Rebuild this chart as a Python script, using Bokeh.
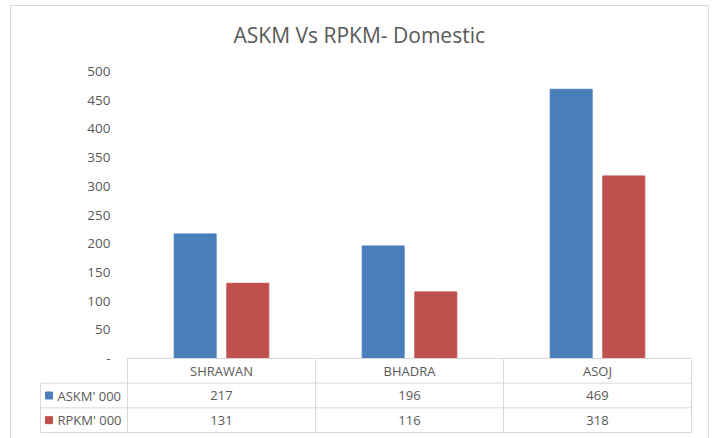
from bokeh.plotting import figure
from bokeh.layouts import column
from bokeh.models import (Range1d, FixedTicker, CustomJSTickFormatter, ColumnDataSource,
                          LinearAxis)
from bokeh.transform import dodge
from bokeh.core.properties import value
from bokeh.embed import file_html
from bokeh.resources import INLINE

# ---- data ----
months = ["SHRAWAN", "BHADRA", "ASOJ"]
askm = [217, 196, 469]
rpkm = [131, 116, 318]
series_names = ["ASKM' 000", "RPKM' 000"]
series_colors = ["#4A7EBB", "#C0504D"]
y_ticks = [0, 50, 100, 150, 200, 250, 300, 350, 400, 450, 500]
title_text = "ASKM  Vs RPKM- Domestic"

FONT = "Open Sans"
GRAY = "#595959"
LINE = "#d9d9d9"

n = len(months)
centers = [i + 0.5 for i in range(n)]
series_vals = [askm, rpkm]

# ---- geometry (pixels) ----
cat_px = 188.0            # width of one category column
label_px = 87.0           # width of the table's legend column
pad = 2.0                 # keeps edge lines inside the frame
top_pad = 10.0            # room for the top tick label
plot_px = 287.0           # height of the 0..ymax bar area
table_px = 74.0           # height of the data table
ymax = max(y_ticks)
ppu_y = plot_px / ymax
L = label_px / cat_px
rows = 1 + len(series_names)
row_h = (table_px / rows) / ppu_y
y_bottom = -rows * row_h - pad / ppu_y

p = figure(width=697, height=432,
           x_range=Range1d(-L - pad / cat_px, n + pad / cat_px),
           y_range=Range1d(y_bottom, ymax + top_pad / ppu_y),
           output_backend="svg", toolbar_location=None,
           x_axis_location=None, y_axis_location=None,
           min_border_left=27, min_border_right=15, min_border_top=54, min_border_bottom=4)
p.title.text = title_text
p.title.align = "left"
p.title.offset = 195
p.title.standoff = 25
p.title.text_font = FONT
p.title.text_font_size = "21px"
p.title.text_font_style = "normal"
p.title.text_color = GRAY
p.xgrid.visible = False
p.ygrid.visible = False
p.outline_line_color = None
p.background_fill_color = "white"
p.border_fill_color = "white"

# bars
src = ColumnDataSource(dict(x=centers, askm=askm, rpkm=rpkm))
bw = 0.223
off = 0.14
p.vbar(x=dodge("x", -off), top="askm", width=bw, source=src,
       fill_color=series_colors[0], line_color=series_colors[0])
p.vbar(x=dodge("x", off), top="rpkm", width=bw, source=src,
       fill_color=series_colors[1], line_color=series_colors[1])

# value axis placed at the left edge of the category area
ya = LinearAxis(fixed_location=0)
ya.ticker = FixedTicker(ticks=y_ticks)
ya.formatter = CustomJSTickFormatter(code="return tick == 0 ? '-' : tick.toString();")
ya.axis_line_color = None
ya.major_tick_line_color = None
ya.minor_tick_line_color = None
ya.major_tick_out = 0
ya.major_tick_in = 0
ya.major_label_standoff = 17
ya.major_label_text_font = FONT
ya.major_label_text_font_size = "13.5px"
ya.major_label_text_color = GRAY
p.add_layout(ya, "left")

# ---- data table ----
hx0, hx1, hy = [], [], []
for r in range(rows + 1):
    hx0.append(0 if r == 0 else -L)
    hx1.append(n)
    hy.append(-r * row_h)
p.segment(x0=hx0, y0=hy, x1=hx1, y1=hy, line_color=LINE, line_width=1)
vx, vy0, vy1 = [-L], [-row_h], [-rows * row_h]
for c in range(n + 1):
    vx.append(c)
    vy0.append(0)
    vy1.append(-rows * row_h)
p.segment(x0=vx, y0=vy0, x1=vx, y1=vy1, line_color=LINE, line_width=1)

p.text(x=centers, y=[-0.5 * row_h] * n, text=months, text_font=value(FONT),
       text_align="center", text_baseline="middle", text_color=GRAY, text_font_size="13px")

for r, (vals, name, col) in enumerate(zip(series_vals, series_names, series_colors)):
    yc = -(r + 1.5) * row_h
    p.text(x=centers, y=[yc] * n, text=[str(v) for v in vals], text_font=value(FONT),
           text_align="center", text_baseline="middle", text_color=GRAY, text_font_size="13px")
    p.scatter(x=[-L + 8.5 / cat_px], y=[yc], marker="square", size=7,
              fill_color=col, line_color=col)
    p.text(x=[-L + 17 / cat_px], y=[yc], text=[name], text_font=value(FONT),
           text_align="left", text_baseline="middle", text_color=GRAY, text_font_size="13px")

layout = column(p, margin=(5, 0, 0, 10),
                styles={"border-top": "1px solid " + LINE,
                        "border-left": "1px solid " + LINE,
                        "border-right": "1px solid " + LINE})
open("out.html", "w").write(file_html(layout, INLINE))
